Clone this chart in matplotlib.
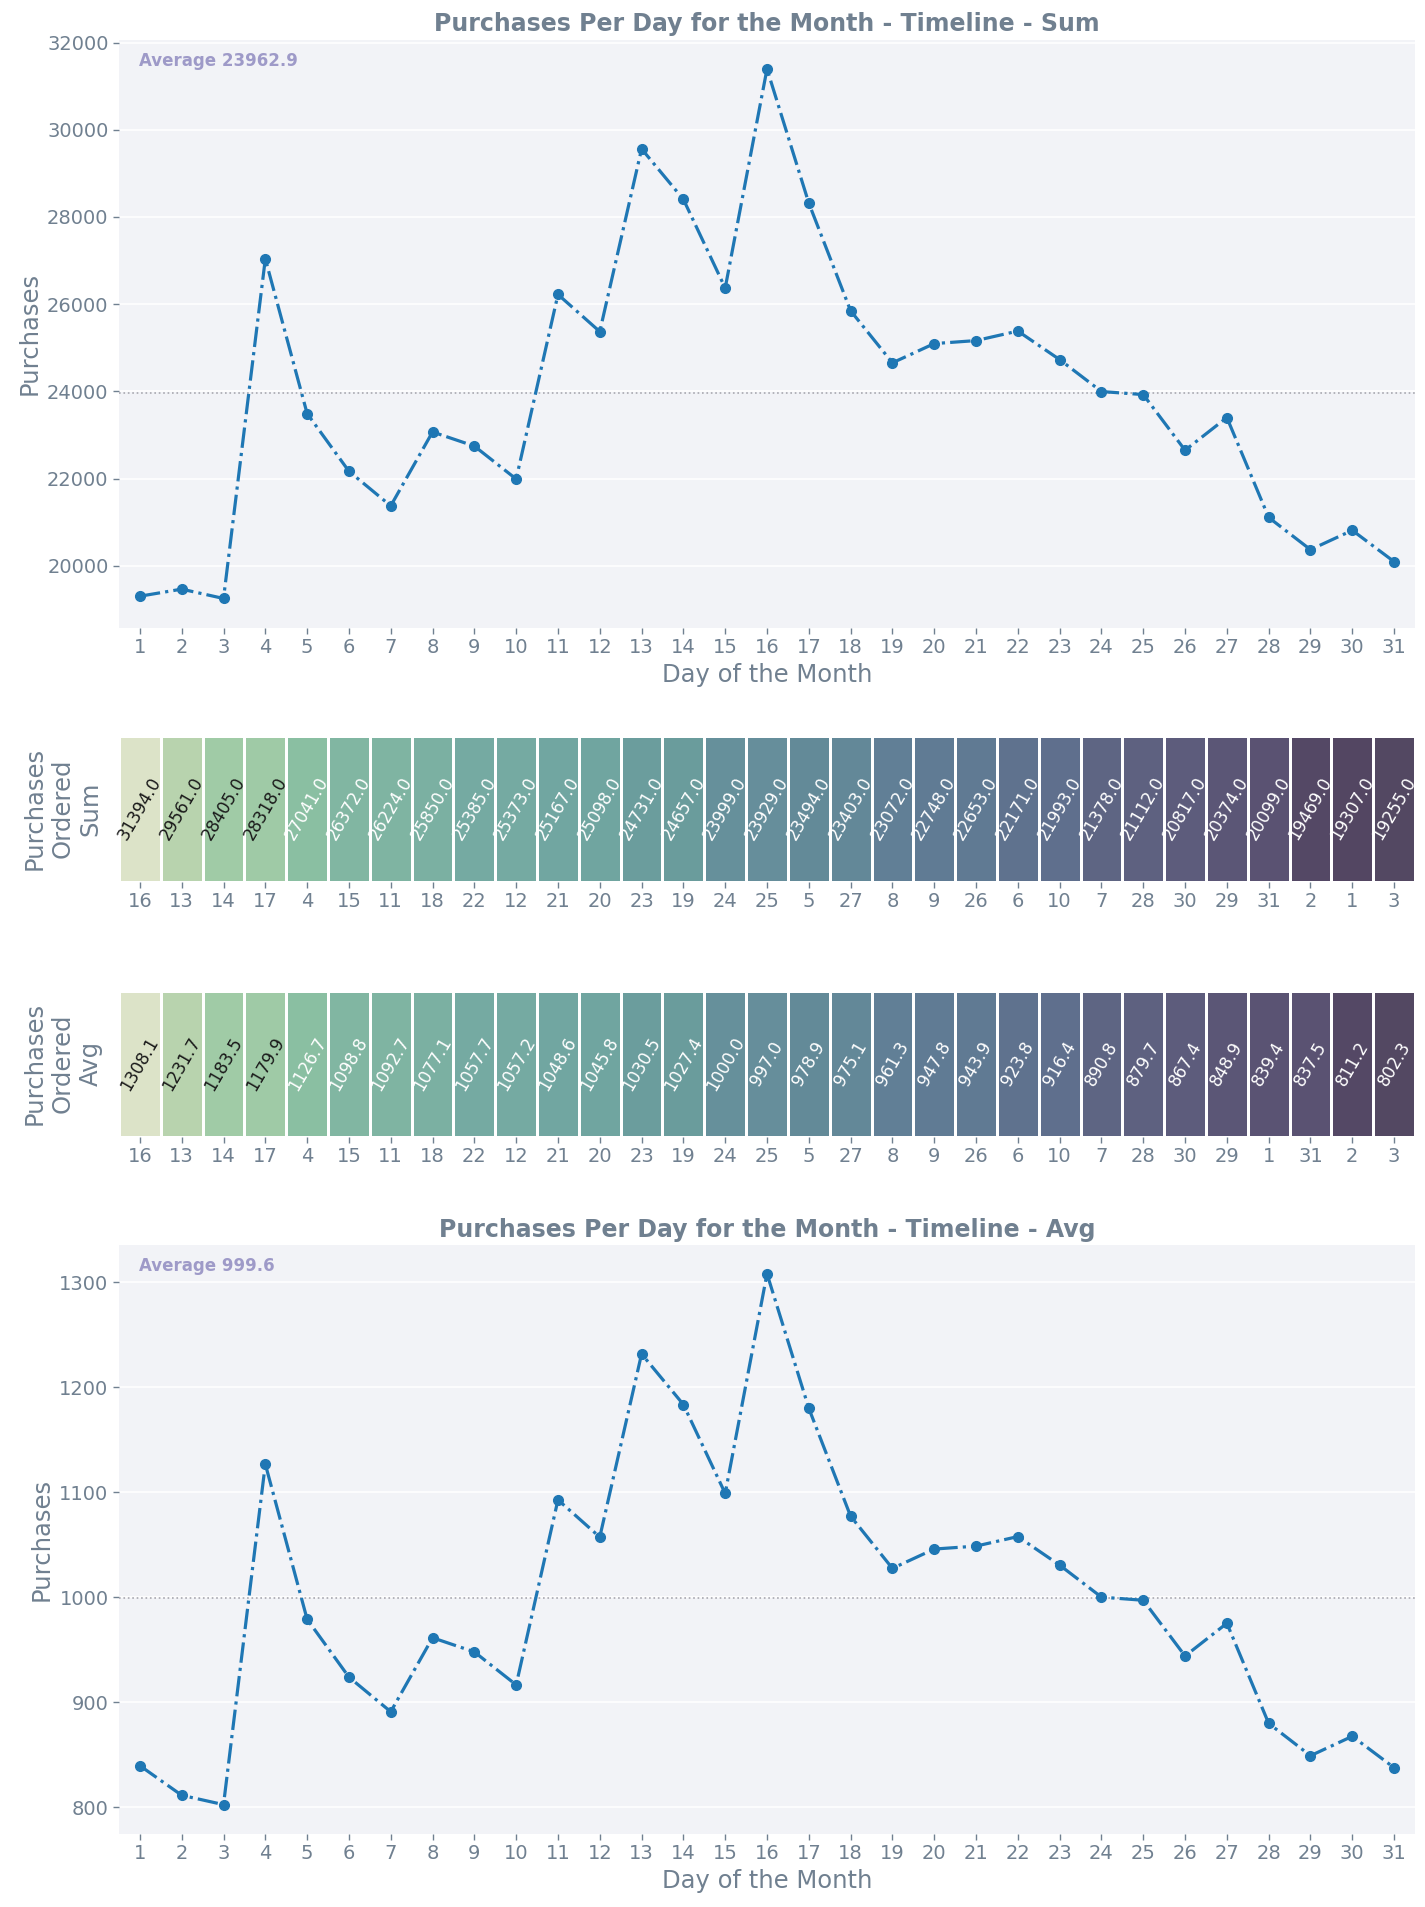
import matplotlib
matplotlib.use("Agg")
import matplotlib.pyplot as plt
import numpy as np
import pandas as pd
import seaborn as sns
from matplotlib.colors import LinearSegmentedColormap

# ---------------- data ----------------
days = list(range(1, 32))
sum_purchases = [19307, 19469, 19255, 27041, 23494, 22171, 21378, 23072, 22748, 21993,
                 26224, 25373, 29561, 28405, 26372, 31394, 28318, 25850, 24657, 25098,
                 25167, 25385, 24731, 23999, 23929, 22653, 23403, 21112, 20374, 20817, 20099]
avg_purchases = [839.4, 811.2, 802.3, 1126.7, 978.9, 923.8, 890.8, 961.3, 947.8, 916.4,
                 1092.7, 1057.2, 1231.7, 1183.5, 1098.8, 1308.1, 1179.9, 1077.1, 1027.4, 1045.8,
                 1048.6, 1057.7, 1030.5, 1000.0, 997.0, 943.9, 975.1, 879.7, 848.9, 867.4, 837.5]
sum_avg_label = 23962.9
avg_avg_label = 999.6

title_sum = "Purchases Per Day for the Month - Timeline - Sum"
title_avg = "Purchases Per Day for the Month - Timeline - Avg"
xlabel = "Day of the Month"
ylabel = "Purchases"
hm_label_sum = "Purchases\nOrdered\nSum"
hm_label_avg = "Purchases\nOrdered\nAvg"

# ---------------- style ----------------
TXT = "slategray"
BG = "#f2f3f7"
LINE = "#1f77b4"
AVGC = "#9e9ac8"

cm_pos = [0.0, 0.004, 0.07, 0.153, 0.226, 0.28, 0.314, 0.349, 0.39, 0.445, 0.48, 0.505,
          0.574, 0.641, 0.747, 0.849, 1.0]
cm_col = ["#534862", "#534662", "#5a5373", "#5e6180", "#5f708d", "#607a93", "#617f96",
          "#638a98", "#668f9b", "#6a9c9c", "#70a4a0", "#75aaa2", "#7fb4a2", "#8abfa2",
          "#9fcaa6", "#b8d3ae", "#dce3c8"]
cmap = LinearSegmentedColormap.from_list("hm", list(zip(cm_pos, cm_col)))

W, H = 1425, 1907
fig = plt.figure(figsize=(W / 100, H / 100), dpi=100)


def px_axes(left, top, right, bottom):
    return fig.add_axes([left / W, 1 - bottom / H, (right - left) / W, (bottom - top) / H])


def style_ax(ax):
    ax.set_facecolor(BG)
    for s in ax.spines.values():
        s.set_visible(False)
    ax.tick_params(axis="both", colors=TXT, labelsize=14, length=4, width=1)
    ax.tick_params(axis="x", labelcolor=TXT)


def line_chart(ax, vals, avg_val, title, ylim, yticks):
    style_ax(ax)
    ax.grid(axis="y", color="white", linewidth=1.2)
    ax.grid(axis="x", visible=False)
    ax.set_axisbelow(True)
    ax.axhline(avg_val, color="#a8a8b0", linestyle=":", linewidth=1.2, zorder=1)
    ax.plot(days, vals, linestyle="-.", marker="o", color=LINE, linewidth=2.3,
            markersize=7, zorder=3)
    ax.set_xlim(0.5, 31.5)
    ax.set_ylim(*ylim)
    ax.set_xticks(days)
    ax.set_yticks(yticks)
    ax.set_title(title, color=TXT, fontsize=17, fontweight="bold")
    ax.set_xlabel(xlabel, color=TXT, fontsize=17.5, labelpad=4)
    ax.set_ylabel(ylabel, color=TXT, fontsize=17.5)
    ax.text(0.0155, 0.955, f"Average {avg_val}", transform=ax.transAxes, color=AVGC,
            fontsize=12, fontweight="bold", va="baseline")


def heat(ax, vals, label):
    order = sorted(range(len(days)), key=lambda i: -vals[i])
    cols = [str(days[i]) for i in order]
    df = pd.DataFrame([[vals[i] for i in order]], columns=cols)
    sns.heatmap(df, ax=ax, cmap=cmap, annot=True, fmt=".1f", cbar=False,
                linewidths=0.8, linecolor="white", xticklabels=cols, yticklabels=False,
                annot_kws={"rotation": 60, "fontsize": 12.2})
    vmin, vmax = min(vals), max(vals)
    for t in ax.texts:
        v = float(t.get_text())
        t.set_color("#1a1a1a" if (v - vmin) / (vmax - vmin) > 0.7 else "white")
    ax.tick_params(axis="x", colors=TXT, labelsize=14, length=4, width=1, rotation=0)
    ax.tick_params(axis="y", left=False)
    ax.set_ylabel(label, color=TXT, fontsize=17.5, labelpad=12)
    ax.set_xlabel("")


ax1 = px_axes(119, 39.5, 1415, 627.7)
line_chart(ax1, sum_purchases, sum_avg_label, title_sum, (18585, 32069),
           list(range(20000, 32001, 2000)))

ax2 = px_axes(119, 735.7, 1415, 881.7)
heat(ax2, sum_purchases, hm_label_sum)

ax3 = px_axes(119, 990.7, 1415, 1136.7)
heat(ax3, avg_purchases, hm_label_avg)

ax4 = px_axes(119, 1245, 1415, 1833.7)
line_chart(ax4, avg_purchases, avg_avg_label, title_avg, (774.6, 1335.5),
           list(range(800, 1301, 100)))

fig.savefig("out.png", dpi=100)
